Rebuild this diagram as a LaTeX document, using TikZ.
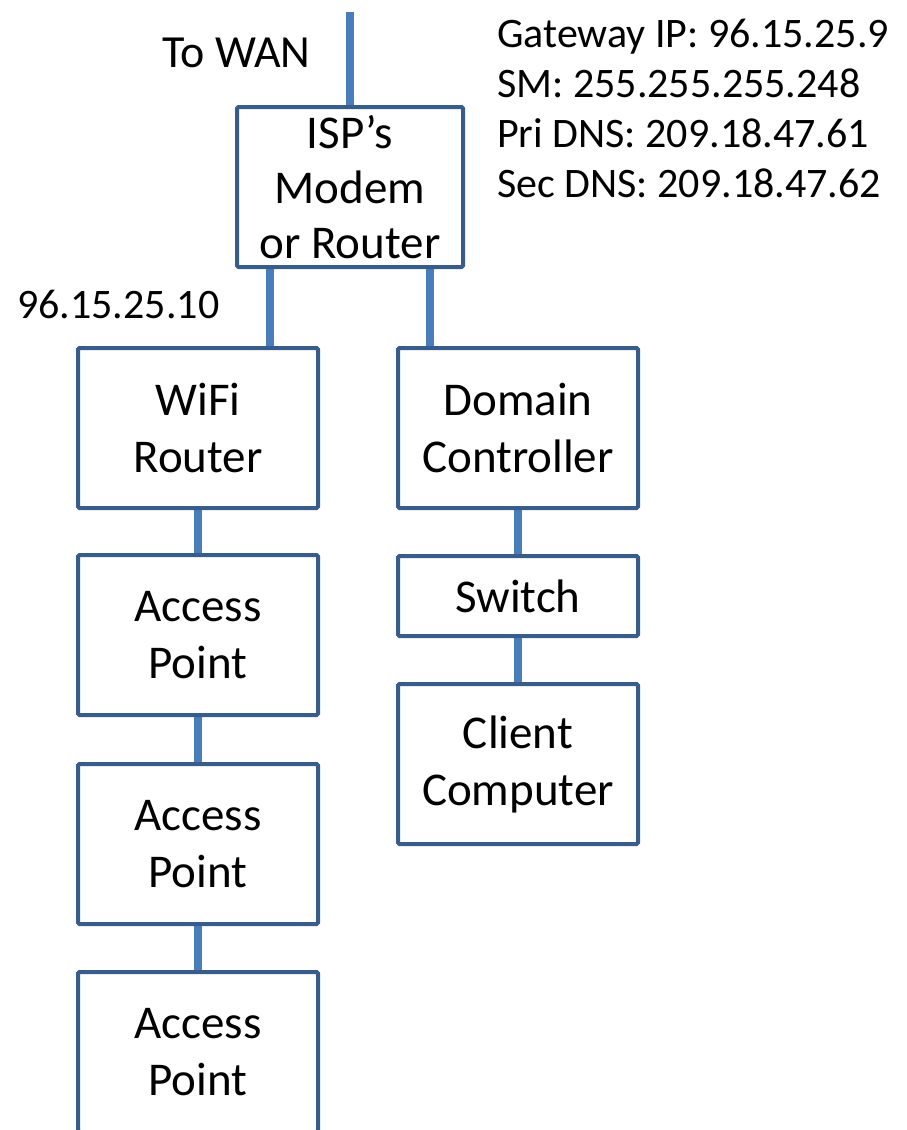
\documentclass[tikz,border=0pt]{standalone}
\usepackage{fontspec}
\setmainfont{Carlito}
\usetikzlibrary{backgrounds}
\definecolor{boxline}{HTML}{385D8A}
\definecolor{wirecol}{HTML}{4A7EBB}
\begin{document}
\begin{tikzpicture}[x=1pt,y=-1pt,
  box/.style={draw=boxline, line width=4pt, rounded corners=1.5pt, align=center,
    font=\fontsize{47}{57}\selectfont, inner sep=0pt, outer sep=0pt,
    anchor=north west, minimum width=240pt, minimum height=160pt},
  wire/.style={draw=wirecol, line width=8pt},
  lbl/.style={font=\fontsize{42}{50}\selectfont, inner sep=0pt, anchor=base west}]
\useasboundingbox (0,0) rectangle (907,1130);
\clip (0,0) rectangle (907,1130);

\node[box, minimum width=226pt, font=\fontsize{47}{55}\selectfont] (isp) at (237,107) {ISP’s\\Modem\\or Router};
\node[box] (wifi) at (78,348) {WiFi\\Router};
\node[box] (dc) at (398,348) {Domain\\Controller};
\node[box] (ap1) at (78,555) {Access\\Point};
\node[box] (ap2) at (78,764) {Access\\Point};
\node[box] (ap3) at (78,972) {Access\\Point};
\node[box, minimum height=80pt] (sw) at (398,556) {Switch};
\node[box] (cc) at (398,684) {Client\\Computer};

\node[lbl, font=\fontsize{46}{55}\selectfont] (wanlbl) at (162,67) {To WAN};
\node[lbl] (wifiip) at (17,318) {96.15.25.10};
\node[lbl] (gw) at (497,47) {Gateway IP: 96.15.25.9};
\node[lbl] (sm) at (497,97) {SM: 255.255.255.248};
\node[lbl] (pdns) at (497,147) {Pri DNS: 209.18.47.61};
\node[lbl] (sdns) at (497,197) {Sec DNS: 209.18.47.62};

\coordinate (wan) at (350,12);
\begin{scope}[on background layer]
\draw[wire] (wan) -- (wan |- isp.north);
\draw[wire] ([xshift=-80pt]isp.south) -- ([xshift=-80pt]isp.south |- wifi.north);
\draw[wire] ([xshift=80pt]isp.south) -- ([xshift=80pt]isp.south |- dc.north);
\draw[wire] (wifi.south) -- (ap1.north);
\draw[wire] (ap1.south) -- (ap2.north);
\draw[wire] (ap2.south) -- (ap3.north);
\draw[wire] (dc.south) -- (sw.north);
\draw[wire] (sw.south) -- (cc.north);
\end{scope}
\end{tikzpicture}
\end{document}
